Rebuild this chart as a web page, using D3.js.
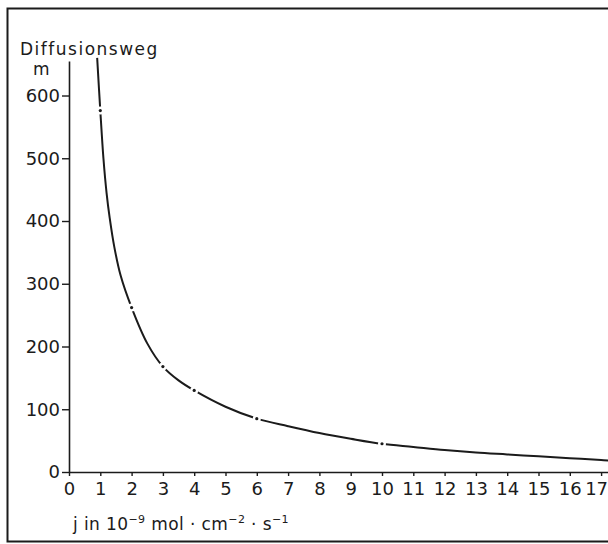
<!DOCTYPE html>
<html>
<head>
<meta charset="utf-8">
<script src="https://cdn.jsdelivr.net/npm/d3@7"></script>
<style>
  html, body { margin: 0; padding: 0; background: #fff; }
  svg { display: block; font-family: "DejaVu Sans", sans-serif; }
</style>
</head>
<body>
<div id="chart"></div>
<script>
// values (flux j -> diffusion path in m)
const fluxValues = [0.9, 1, 1.1, 1.2, 1.3, 1.45, 1.65, 2, 2.5, 3, 3.5, 4, 5, 6, 7, 8, 9, 10, 11, 12, 13, 14, 15, 16, 17, 17.3];
const pathValues = [660, 576, 500, 445, 405, 358, 313, 262, 205, 168, 146, 130, 104, 85, 73, 62, 53, 45, 40, 35, 31, 28, 25, 22, 19, 18];
// points marked on the curve
const markedFlux = [1, 2, 3, 4, 6, 10];
const xTicks = d3.range(0, 18);
const yTicks = [0, 100, 200, 300, 400, 500, 600];

const width = 608, height = 544;
const ink = "#1b1b1b";

const svg = d3.select("#chart").append("svg")
    .attr("width", width)
    .attr("height", height);

// frame
svg.append("path")
    .attr("d", `M${width + 5},8.5 H7.5 V541.5 H${width + 5}`)
    .attr("fill", "none")
    .attr("stroke", ink)
    .attr("stroke-width", 2);

// scales
const x = d3.scaleLinear().domain([0, 17.3]).range([69, 69 + 17.3 * 31.3]);
const y = d3.scaleLinear().domain([0, 655]).range([472, 61]);

// x axis
const xAxis = svg.append("g")
    .attr("transform", `translate(0,${y(0)})`)
    .call(d3.axisBottom(x).tickValues(xTicks).tickSize(4).tickSizeOuter(0).tickPadding(6));
xAxis.select(".domain").attr("stroke", ink).attr("stroke-width", 1.6);
xAxis.selectAll(".tick line").attr("stroke", ink).attr("stroke-width", 1.4);
xAxis.selectAll(".tick text")
    .attr("fill", ink)
    .attr("dx", d => d === 17 ? -5 : 0)
    .style("font-size", "18px")
    .style("font-family", "DejaVu Sans, sans-serif");

// y axis
const yAxis = svg.append("g")
    .attr("transform", `translate(${x(0)},0)`)
    .call(d3.axisLeft(y).tickValues(yTicks).tickSize(7).tickSizeOuter(0).tickPadding(2));
yAxis.select(".domain").attr("stroke", ink).attr("stroke-width", 1.6);
yAxis.selectAll(".tick line").attr("stroke", ink).attr("stroke-width", 1.4);
yAxis.selectAll(".tick text")
    .attr("fill", ink)
    .style("font-size", "18px")
    .style("font-family", "DejaVu Sans, sans-serif");

// curve
const data = fluxValues.map((v, i) => ({ j: v, s: pathValues[i] }));
const line = d3.line()
    .x(d => x(d.j))
    .y(d => y(d.s))
    .curve(d3.curveCatmullRom.alpha(0.5));

svg.append("path")
    .datum(data)
    .attr("d", line)
    .attr("fill", "none")
    .attr("stroke", ink)
    .attr("stroke-width", 2);

// marked points: small gap with a dot
const marked = markedFlux.map(v => data.find(d => d.j === v));
svg.selectAll("circle.gap")
    .data(marked)
    .join("circle")
    .attr("class", "gap")
    .attr("cx", d => x(d.j))
    .attr("cy", d => y(d.s))
    .attr("r", 4)
    .attr("fill", "#fff");
svg.selectAll("circle.dot")
    .data(marked)
    .join("circle")
    .attr("class", "dot")
    .attr("cx", d => x(d.j))
    .attr("cy", d => y(d.s))
    .attr("r", 1.6)
    .attr("fill", ink);

// labels
svg.append("text")
    .attr("x", 20)
    .attr("y", 55)
    .attr("fill", ink)
    .style("font-size", "17px")
    .style("letter-spacing", "1.5px")
    .text("Diffusionsweg");

svg.append("text")
    .attr("x", 33)
    .attr("y", 75)
    .attr("fill", ink)
    .style("font-size", "17px")
    .text("m");

const xl = svg.append("text")
    .attr("x", 73)
    .attr("y", 530)
    .attr("fill", ink)
    .style("font-size", "17px")
    .style("letter-spacing", "0.4px");
xl.append("tspan").text("j in 10");
xl.append("tspan").attr("dy", -7).style("font-size", "11px").text("\u22129");
xl.append("tspan").attr("dy", 7).text(" mol \u00b7 cm");
xl.append("tspan").attr("dy", -7).style("font-size", "11px").text("\u22122");
xl.append("tspan").attr("dy", 7).text(" \u00b7 s");
xl.append("tspan").attr("dy", -7).style("font-size", "11px").text("\u22121");
</script>
</body>
</html>
